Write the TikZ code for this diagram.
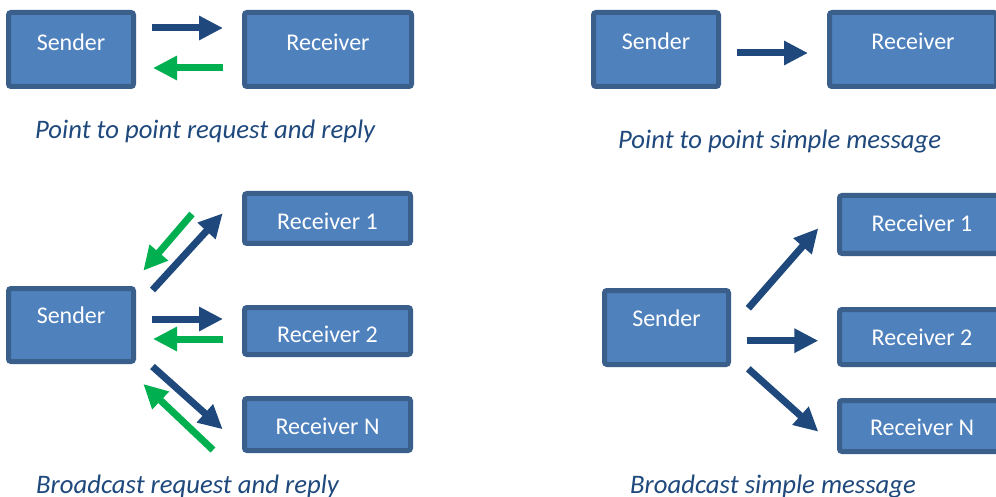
\documentclass[tikz,border=0pt]{standalone}
\usepackage{fontspec}
\setmainfont{Carlito}
\usetikzlibrary{arrows.meta}
\definecolor{boxfill}{HTML}{4F81BD}
\definecolor{boxline}{HTML}{3A5F8B}
\definecolor{arrblue}{HTML}{1F497D}
\definecolor{arrgreen}{HTML}{00B050}
\definecolor{captxt}{HTML}{1F497D}
\begin{document}
\begin{tikzpicture}[x=1pt,y=-1pt,
  boxnode/.style={draw=boxline, fill=boxfill, line width=5pt, rounded corners=2.5pt, inner sep=0pt},
  boxtext/.style={text=white, font=\fontsize{24}{28}\selectfont, inner sep=0pt},
  captionnode/.style={text=captxt, font=\fontsize{26.7}{31}\selectfont\itshape, inner sep=0pt, anchor=base west},
  reqarrow/.style={draw=arrblue, line width=7pt, -{Triangle[length=24pt,width=23pt]}},
  reparrow/.style={draw=arrgreen, line width=7pt, -{Triangle[length=24pt,width=23pt]}}]
\clip (0,0) rectangle (996,497);
\fill[white] (0,0) rectangle (996,497);

% ---------- Top left: point to point request and reply
\node[boxnode, minimum width=125pt, minimum height=74pt] (tlS) at (71,49.5) {};
\node[boxnode, minimum width=167pt, minimum height=74pt] (tlR) at (328,49.5) {};
\node[boxtext] (tlSt) at (71,42) {Sender};
\node[boxtext] (tlRt) at (328,42) {Receiver};
\coordinate (tlA1s) at (152,28);  \coordinate (tlA1e) at (223,28);
\coordinate (tlA2s) at (223,68);  \coordinate (tlA2e) at (153,68);
\draw[reqarrow] (tlA1s) -- (tlA1e);
\draw[reparrow] (tlA2s) -- (tlA2e);
\node[captionnode] (tlC) at (35,139) {Point to point request and reply};

% ---------- Top right: point to point simple message
\node[boxnode, minimum width=125pt, minimum height=74pt] (trS) at (656,49.5) {};
\node[boxnode, minimum width=167pt, minimum height=74pt] (trR) at (913,49.5) {};
\node[boxtext] (trSt) at (656,41) {Sender};
\node[boxtext] (trRt) at (913,41) {Receiver};
\coordinate (trAs) at (737,53);  \coordinate (trAe) at (808,53);
\draw[reqarrow] (trAs) -- (trAe);
\node[captionnode] (trC) at (618,149) {Point to point simple message};

% ---------- Bottom left: broadcast request and reply
\node[boxnode, minimum width=125pt, minimum height=73pt] (blS) at (71,325) {};
\node[boxnode, minimum width=166pt, minimum height=50pt] (blR1) at (327.5,218.5) {};
\node[boxnode, minimum width=166pt, minimum height=47pt] (blR2) at (327.5,331) {};
\node[boxnode, minimum width=166pt, minimum height=52pt] (blRN) at (327.5,424.5) {};
\node[boxtext] (blSt) at (71,315) {Sender};
\node[boxtext] (blR1t) at (327.5,221) {Receiver 1};
\node[boxtext] (blR2t) at (327.5,334) {Receiver 2};
\node[boxtext] (blRNt) at (327.5,426) {Receiver N};
\coordinate (blA1s) at (152.5,290);  \coordinate (blA1e) at (222.7,213.3);
\coordinate (blB1s) at (192,214);    \coordinate (blB1e) at (143.3,270.7);
\coordinate (blA2s) at (152,319);    \coordinate (blA2e) at (223,319);
\coordinate (blB2s) at (223,339);    \coordinate (blB2e) at (153,339);
\coordinate (blA3s) at (152.5,366.5);\coordinate (blA3e) at (222.7,429.3);
\coordinate (blB3s) at (213,450);    \coordinate (blB3e) at (143.3,384);
\draw[reqarrow] (blA1s) -- (blA1e);
\draw[reparrow] (blB1s) -- (blB1e);
\draw[reqarrow] (blA2s) -- (blA2e);
\draw[reparrow] (blB2s) -- (blB2e);
\draw[reqarrow] (blA3s) -- (blA3e);
\draw[reparrow] (blB3s) -- (blB3e);
\node[captionnode] (blC) at (36,493) {Broadcast request and reply};

% ---------- Bottom right: broadcast simple message
\node[boxnode, minimum width=124pt, minimum height=74pt] (brS) at (666.5,327.5) {};
\node[boxnode, minimum width=165pt, minimum height=58pt] (brR1) at (922,224.5) {};
\node[boxnode, minimum width=165pt, minimum height=55pt] (brR2) at (922,337) {};
\node[boxnode, minimum width=165pt, minimum height=51pt] (brRN) at (922,426) {};
\node[boxtext] (brSt) at (666.5,318) {Sender};
\node[boxtext] (brR1t) at (922,223) {Receiver 1};
\node[boxtext] (brR2t) at (922,337) {Receiver 2};
\node[boxtext] (brRNt) at (922,427) {Receiver N};
\coordinate (brA1s) at (748.3,308.3);  \coordinate (brA1e) at (818.3,228.3);
\coordinate (brA2s) at (746.7,340.7);  \coordinate (brA2e) at (818.3,340.7);
\coordinate (brA3s) at (748.3,368.8);  \coordinate (brA3e) at (818.3,431.7);
\draw[reqarrow] (brA1s) -- (brA1e);
\draw[reqarrow] (brA2s) -- (brA2e);
\draw[reqarrow] (brA3s) -- (brA3e);
\node[captionnode] (brC) at (630,493) {Broadcast simple message};
\end{tikzpicture}
\end{document}
